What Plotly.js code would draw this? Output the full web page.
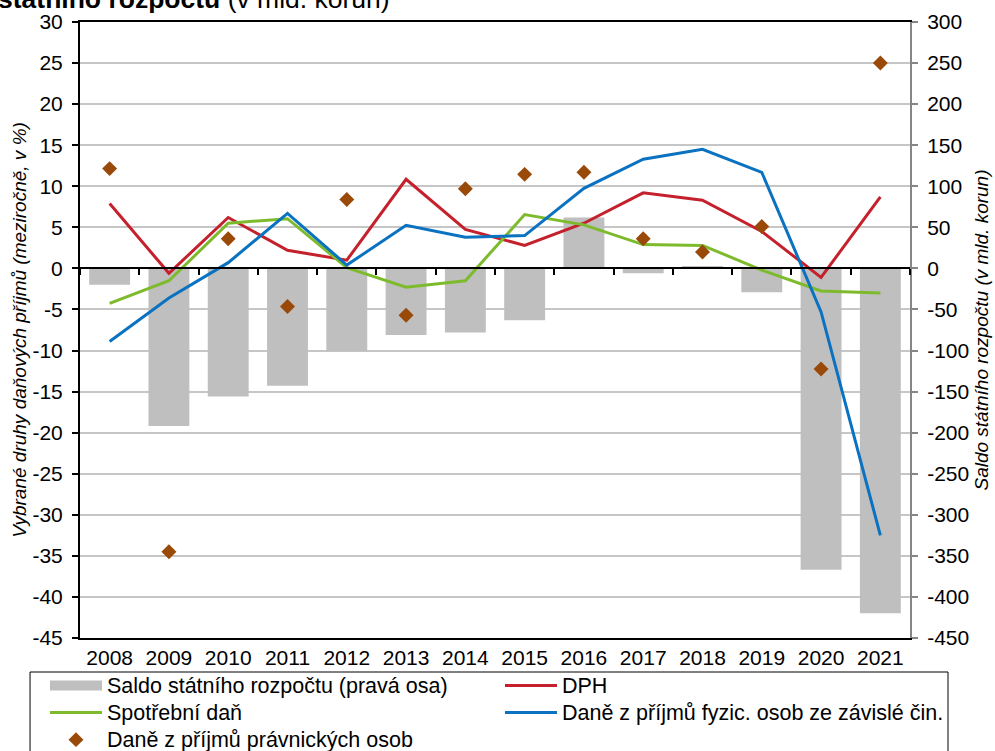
<!DOCTYPE html>
<html>
<head>
<meta charset="utf-8">
<script src="https://cdn.plot.ly/plotly-3.0.1.min.js"></script>
<style>html,body{margin:0;padding:0;background:#fff;}#chart{width:995px;height:751px;}</style>
</head>
<body>
<div id="chart"></div>
<script>
// ---- data ----
const years = ['2008','2009','2010','2011','2012','2013','2014','2015','2016','2017','2018','2019','2020','2021'];
// Saldo státního rozpočtu (mld. Kč) - right axis
const saldo = [-20, -192, -156, -143, -101, -81, -78, -63, 62, -6, 3, -29, -367, -420];
// DPH (% y/y)
const dph = [7.9, -0.6, 6.2, 2.2, 1.0, 10.85, 4.75, 2.8, 5.5, 9.2, 8.3, 4.5, -1.1, 8.7];
// Spotřební daň (% y/y)
const spotrebni = [-4.25, -1.5, 5.5, 6.05, 0.1, -2.3, -1.5, 6.55, 5.3, 2.9, 2.8, -0.2, -2.75, -3.0];
// Daně z příjmů fyzických osob ze závislé činnosti (% y/y)
const dpfo = [-8.9, -3.6, 0.7, 6.7, 0.4, 5.25, 3.8, 4.0, 9.75, 13.3, 14.5, 11.7, -5.3, -32.5];
// Daně z příjmů právnických osob (% y/y)
const dppo = [12.15, -34.5, 3.6, -4.65, 8.4, -5.7, 9.7, 11.45, 11.7, 3.6, 2.0, 5.1, -12.25, 25.0];

// tick labels (hyphen minus as in the original)
const leftTickVals = [30, 25, 20, 15, 10, 5, 0, -5, -10, -15, -20, -25, -30, -35, -40, -45];
const leftTickText = ['30','25','20','15','10','5','0','-5','-10','-15','-20','-25','-30','-35','-40','-45'];
const rightTickVals = [300, 250, 200, 150, 100, 50, 0, -50, -100, -150, -200, -250, -300, -350, -400, -450];
const rightTickText = ['300','250','200','150','100','50','0','-50','-100','-150','-200','-250','-300','-350','-400','-450'];

const seriesNames = {
  saldo: 'Saldo státního rozpočtu (pravá osa)',
  dph: 'DPH',
  spd: 'Spotřební daň',
  dpfo: 'Daně z příjmů fyzic. osob ze závislé čin.',
  dppo: 'Daně z příjmů právnických osob'
};
const lg = s => '<span style="font-size:21.5px">' + s + '</span>';

const FONT = 'Liberation Sans, Arial, sans-serif';

const traces = [
  // legend entry for the bars (wide grey swatch)
  {type:'scatter', mode:'lines', x:[null], y:[null], xaxis:'x', yaxis:'y2',
   name:lg(seriesNames.saldo), legendgroup:'saldo', line:{color:'#BFBFBF', width:12}, hoverinfo:'skip'},
  {type:'bar', x:years, y:saldo, xaxis:'x', yaxis:'y2', name:seriesNames.saldo, legendgroup:'saldo',
   showlegend:false, marker:{color:'#BFBFBF'}},
  {type:'scatter', mode:'lines', x:years, y:dph, xaxis:'x', yaxis:'y', name:lg(seriesNames.dph),
   line:{color:'#C4212D', width:3}},
  {type:'scatter', mode:'lines', x:years, y:spotrebni, xaxis:'x', yaxis:'y', name:lg(seriesNames.spd),
   line:{color:'#7DBB2C', width:3}},
  {type:'scatter', mode:'lines', x:years, y:dpfo, xaxis:'x', yaxis:'y', name:lg(seriesNames.dpfo),
   line:{color:'#0A72C0', width:3}},
  {type:'scatter', mode:'markers', x:years, y:dppo, xaxis:'x', yaxis:'y', name:lg(seriesNames.dppo),
   marker:{symbol:'diamond', size:11.5, color:'#9A4A08'}},
  // carrier for the tick marks along the zero line
  {type:'scatter', mode:'markers', x:[], y:[], xaxis:'x2', yaxis:'y', showlegend:false, hoverinfo:'skip'}
];

const layout = {
  width:995, height:751,
  margin:{l:80, r:85, t:22, b:113, autoexpand:false},
  paper_bgcolor:'#fff', plot_bgcolor:'#fff',
  font:{family:FONT, size:21, color:'#000'},
  showlegend:true,
  bargap:0.31,
  xaxis:{type:'category', range:[-0.5,13.5], anchor:'y2', showline:true, mirror:true,
         linecolor:'#000', linewidth:1.5, ticks:'', showgrid:false,
         tickfont:{size:21, color:'#000'}},
  xaxis2:{overlaying:'x', anchor:'free', position:0.6, type:'linear', range:[-0.5,13.5],
          tick0:-0.5, dtick:1, ticks:'outside', ticklen:6, tickwidth:1.5, tickcolor:'#000',
          showticklabels:false, showline:true, linecolor:'#000', linewidth:2,
          showgrid:false, zeroline:false},
  yaxis2:{side:'right', anchor:'x', range:[-450,300], tickmode:'array',
          tickvals:rightTickVals, ticktext:rightTickText, ticklabelstandoff:5,
          showline:true, linecolor:'#868686', linewidth:2,
          ticks:'outside', ticklen:6, tickwidth:1.5, tickcolor:'#868686',
          showgrid:false, zeroline:false, tickfont:{size:21, color:'#000'},
          title:{text:'Saldo státního rozpočtu (v mld. korun)', font:{size:19, style:'italic', color:'#000'}}},
  yaxis:{overlaying:'y2', side:'left', anchor:'x', range:[-45,30], tickmode:'array',
         tickvals:leftTickVals, ticktext:leftTickText, ticklabelstandoff:5,
         showline:true, linecolor:'#000', linewidth:2,
         ticks:'outside', ticklen:6, tickwidth:1.5, tickcolor:'#000',
         showgrid:true, gridcolor:'#C6C6C6', gridwidth:1.5,
         zeroline:true, zerolinecolor:'#000', zerolinewidth:2,
         tickfont:{size:21, color:'#000'},
         title:{text:'Vybrané druhy daňových příjmů (meziročně, v %)', font:{size:19, style:'italic', color:'#000'}}},
  legend:{orientation:'h', x:-0.0422, xanchor:'left', y:-0.0471, yanchor:'top',
          borderwidth:0, bgcolor:'rgba(0,0,0,0)',
          font:{size:18.5, color:'#000'}, itemwidth:52, entrywidth:388, entrywidthmode:'pixels',
          traceorder:'normal', tracegroupgap:0},
  shapes:[
    {type:'rect', xref:'paper', yref:'paper', x0:-0.0602, x1:1.0458, y0:-0.25, y1:-0.0552,
     line:{color:'#000', width:1}, fillcolor:'rgba(0,0,0,0)', layer:'below'}
  ],
  annotations:[
    {text:'<b>státního rozpočtu</b> (v mld. korun)', xref:'paper', yref:'paper',
     x:-0.1013, xanchor:'left', y:1.0098, yanchor:'bottom', showarrow:false,
     font:{size:26.5, color:'#000'}}
  ]
};

Plotly.newPlot('chart', traces, layout, {displayModeBar:false, staticPlot:false});
</script>
</body>
</html>
